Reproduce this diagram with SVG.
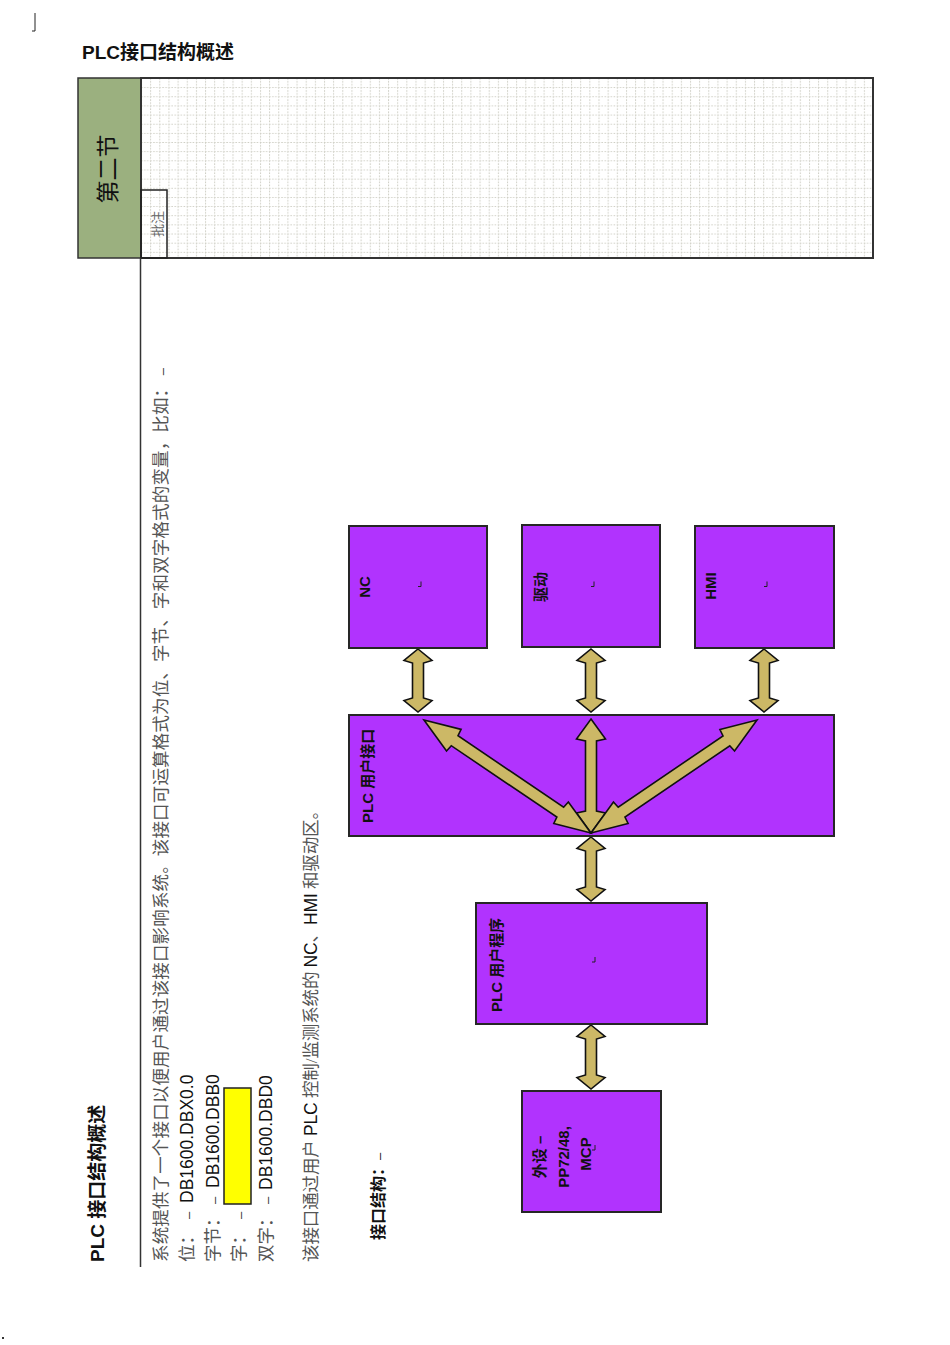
<svg xmlns="http://www.w3.org/2000/svg" width="950" height="1345" viewBox="0 0 950 1345">
<style>
.sans{font-family:"Liberation Sans","Noto Sans CJK SC",sans-serif}
.cjk{font-family:"Noto Sans CJK SC","Liberation Sans",sans-serif}
.body{font-family:"Liberation Serif","Noto Sans CJK SC",serif;font-size:17.5px;fill:#555}
.lat{font-family:"Liberation Sans","Noto Sans CJK SC",sans-serif;fill:#111}
.dash{font-family:"Liberation Sans",sans-serif;font-size:13px;fill:#333}
.bold{font-weight:bold}
.box{fill:#b133fe;stroke:#262626;stroke-width:2}
.lbl{font-family:"Liberation Sans","Noto Sans CJK SC",sans-serif;font-weight:bold;font-size:15px;fill:#111}
.arr{fill:#ccb866;stroke:#111;stroke-width:1.6;stroke-linejoin:miter}
.mark{fill:none;stroke:#222;stroke-width:1}
</style>
<defs>
<pattern id="grid" x="141" y="78" width="9.15" height="9.15" patternUnits="userSpaceOnUse">
<path d="M0 0.5H9.15M0.5 0V9.15" stroke="#cdcdc3" stroke-width="1" stroke-dasharray="1.5 1.5" fill="none"/>
</pattern>
</defs>

<rect width="950" height="1345" fill="#fff"/>

<!-- page marks -->
<polyline class="mark" points="35,13 35,31 32,31"/>
<rect x="2" y="1337" width="2" height="2" fill="#333"/>

<!-- header -->
<text class="sans bold" x="82" y="59" font-size="19" fill="#111">PLC接口结构概述</text>

<g id="section-header">
<rect x="78" y="78" width="63" height="180" fill="#9bb07f" stroke="#333" stroke-width="1.5"/>
<rect x="141" y="78" width="732" height="180" fill="url(#grid)" stroke="#333" stroke-width="2"/>
<rect x="141" y="190" width="26" height="68" fill="none" stroke="#222" stroke-width="1.5"/>
<g transform="rotate(-90)">
<text class="cjk" x="-169" y="115.5" font-size="23" text-anchor="middle" fill="#111">第二节</text>
<text class="cjk" x="-224" y="162" font-size="13" text-anchor="middle" fill="#666">批注</text>
</g>
</g>

<line x1="140.5" y1="258" x2="140.5" y2="1267" stroke="#333" stroke-width="1.5"/>

<!-- rotated body text -->
<g id="text-column" transform="rotate(-90)">
<text class="sans bold" x="-1262" y="104" font-size="19" fill="#111">PLC 接口结构概述</text>
<text class="body" x="-1262" y="167" textLength="894" lengthAdjust="spacing">系统提供了一个接口以便用户通过该接口影响系统。该接口可运算格式为位、字节、字和双字格式的变量，比如： <tspan class="dash">–</tspan></text>
<text class="body" y="193"><tspan x="-1262">位：</tspan><tspan class="dash" x="-1219">–</tspan><tspan class="lat" x="-1203">DB1600.DBX0.0</tspan></text>
<text class="body" y="219"><tspan x="-1262">字节：</tspan><tspan class="dash" x="-1204">–</tspan><tspan class="lat" x="-1188">DB1600.DBB0</tspan></text>
<text class="body" y="245"><tspan x="-1262">字：</tspan><tspan class="dash" x="-1219">–</tspan></text>
<text class="body" y="272"><tspan x="-1262">双字：</tspan><tspan class="dash" x="-1204">–</tspan><tspan class="lat" x="-1190">DB1600.DBD0</tspan></text>
<text class="body" x="-1262" y="317" textLength="460" lengthAdjust="spacing">该接口通过用户 <tspan class="lat">PLC</tspan> 控制/监测系统的 <tspan class="lat">NC</tspan>、<tspan class="lat">HMI</tspan> 和驱动区。</text>
<text class="sans bold" x="-1240" y="384" font-size="16" fill="#111">接口结构：<tspan font-weight="normal" font-size="13">–</tspan></text>
</g>

<!-- connectors -->
<g id="connectors">
<path class="arr" d="M418,649 L432,660.5 L423.5,663 L423.5,698 L432,700.5 L418,712 L404,700.5 L412.5,698 L412.5,663 L404,660.5 Z"/>
<path class="arr" d="M591,649 L605,660.5 L596.5,663 L596.5,698 L605,700.5 L591,712 L577,700.5 L585.5,698 L585.5,663 L577,660.5 Z"/>
<path class="arr" d="M764,649 L778,660.5 L769.5,663 L769.5,698 L778,700.5 L764,712 L750,700.5 L758.5,698 L758.5,663 L750,660.5 Z"/>
<path class="arr" d="M591,837 L605,848.5 L596.5,851 L596.5,887 L605,889.5 L591,901 L577,889.5 L585.5,887 L585.5,851 L577,848.5 Z"/>
<path class="arr" d="M591,1025 L605,1036.5 L596.5,1039 L596.5,1075 L605,1077.5 L591,1089 L577,1077.5 L585.5,1075 L585.5,1039 L577,1036.5 Z"/>
</g>

<g id="node-nc">
<rect class="box" x="349" y="526" width="138" height="122"/>
<text class="lbl" transform="translate(370,587) rotate(-90)" text-anchor="middle">NC</text>
<polyline class="mark" points="421,581.5 421,586.5 418,586.5"/>
</g>
<g id="node-drive">
<rect class="box" x="522" y="525" width="138" height="122"/>
<text class="lbl" transform="translate(546,587) rotate(-90)" text-anchor="middle">驱动</text>
<polyline class="mark" points="594,581.5 594,586.5 591,586.5"/>
</g>
<g id="node-hmi">
<rect class="box" x="695" y="526" width="139" height="122"/>
<text class="lbl" transform="translate(716,586) rotate(-90)" text-anchor="middle">HMI</text>
<polyline class="mark" points="767,581.5 767,586.5 764,586.5"/>
</g>

<g id="node-plc-interface">
<rect class="box" x="349" y="715" width="485" height="121"/>
<text class="lbl" transform="translate(373,823) rotate(-90)">PLC 用户接口</text>
<g id="fan-arrows">
<path class="arr" d="M591,719 L605.5,739 L596.5,741 L596.5,811 L605.5,813 L591,833 L576.5,813 L585.5,811 L585.5,741 L576.5,739 Z"/>
<path class="arr" transform="translate(424,720) rotate(34.08)" d="M0,0 L36,-13 L37,-6 L164.5,-6 L165.5,-13 L201.5,0 L165.5,13 L164.5,6 L37,6 L36,13 Z"/>
<path class="arr" transform="translate(757,720) rotate(145.76)" d="M0,0 L36,-13 L37,-6 L163.8,-6 L164.8,-13 L200.8,0 L164.8,13 L163.8,6 L37,6 L36,13 Z"/>
</g>
</g>

<g id="node-plc-program">
<rect class="box" x="476" y="903" width="231" height="121"/>
<text class="lbl" transform="translate(502,1012) rotate(-90)">PLC 用户程序</text>
<polyline class="mark" points="595,957 595,962 592,962"/>
</g>

<g id="node-peripheral">
<rect class="box" x="522" y="1091" width="139" height="121"/>
<g class="lbl" text-anchor="middle">
<text transform="translate(545,1157) rotate(-90)">外设 –</text>
<text transform="translate(569,1157) rotate(-90)">PP72/48,</text>
<text transform="translate(591,1154) rotate(-90)">MCP</text>
</g>
<polyline class="mark" points="595,1145 595,1150 592,1150"/>
</g>

<rect id="yellow-box" x="224" y="1088" width="27" height="116" fill="#ffff00" stroke="#222" stroke-width="1.5"/>
</svg>
